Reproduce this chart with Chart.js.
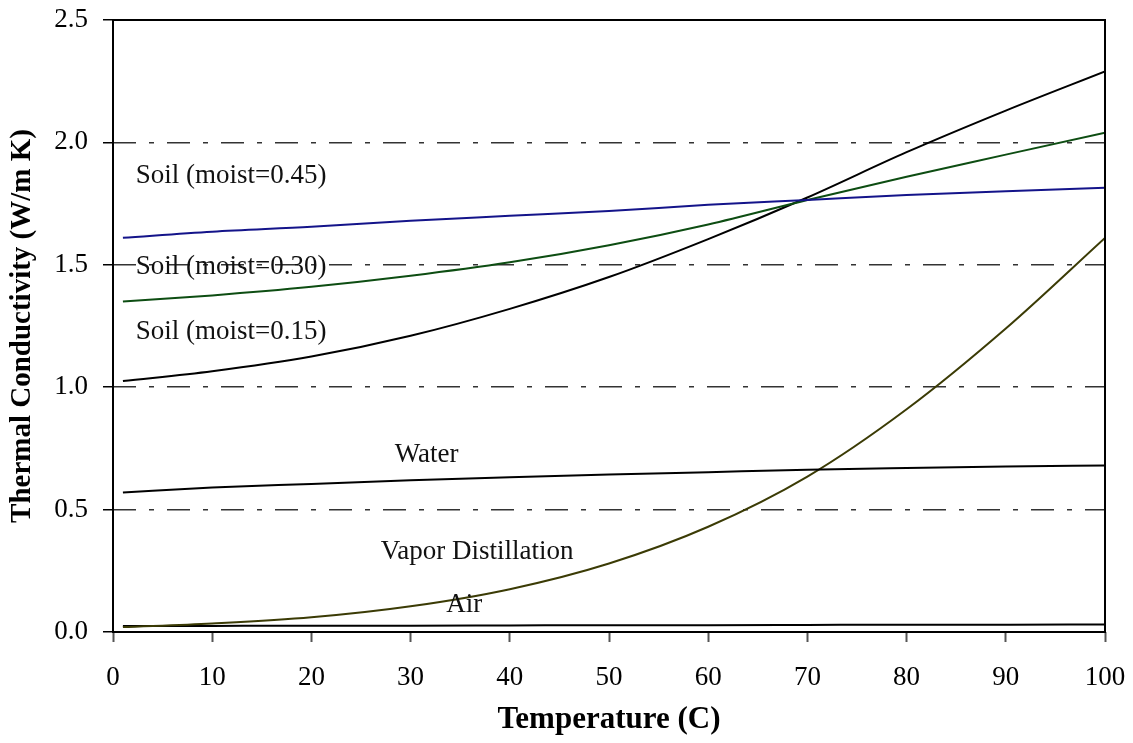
<!DOCTYPE html>
<html>
<head>
<meta charset="utf-8">
<script src="https://cdn.jsdelivr.net/npm/chart.js@4/dist/chart.umd.min.js"></script>
<style>
    html, body { margin: 0; padding: 0; background: #fff; }
    #wrap { width: 1133px; height: 743px; }
</style>
</head>
<body>
<div id="wrap"><canvas id="chart"></canvas></div>
<script>
// temperatures (C) where the curves were read
const temps = [1, 10, 20, 30, 40, 50, 60, 70, 80, 90, 100];

// thermal conductivity (W/m K)
const soil045 = [1.61, 1.635, 1.655, 1.68, 1.70, 1.72, 1.745, 1.765, 1.785, 1.80, 1.815];
const soil030 = [1.35, 1.375, 1.41, 1.455, 1.51, 1.58, 1.665, 1.765, 1.86, 1.95, 2.04];
const soil015 = [1.025, 1.065, 1.125, 1.21, 1.32, 1.45, 1.605, 1.775, 1.96, 2.13, 2.29];
const water = [0.57, 0.59, 0.605, 0.62, 0.632, 0.643, 0.653, 0.663, 0.67, 0.676, 0.68];
const vapor = [0.02, 0.035, 0.06, 0.105, 0.175, 0.28, 0.43, 0.635, 0.91, 1.24, 1.61];
const air = [0.024, 0.025, 0.026, 0.026, 0.027, 0.028, 0.028, 0.029, 0.030, 0.030, 0.031];

const xTicks = [0, 10, 20, 30, 40, 50, 60, 70, 80, 90, 100];
const yTicks = [0, 0.5, 1.0, 1.5, 2.0, 2.5];

// curve labels: [text, x, y] in data units, left aligned
const curveLabels = [
    ['Soil (moist=0.45)', 2.3, 1.863],
    ['Soil (moist=0.30)', 2.3, 1.491],
    ['Soil (moist=0.15)', 2.3, 1.225],
    ['Water', 28.4, 0.723],
    ['Vapor Distillation', 27.0, 0.327],
    ['Air', 33.6, 0.11]
];

const serif = '"Liberation Serif", "Times New Roman", serif';

function toPoints(ys) {
    return temps.map((t, i) => ({x: t, y: ys[i]}));
}

function series(label, ys, color) {
    return {
        label: label,
        data: toPoints(ys),
        borderColor: color,
        borderWidth: 2,
        pointRadius: 0,
        fill: false,
        cubicInterpolationMode: 'monotone'
    };
}

// keep the plot box where the layout padding puts it
function noEdgePadding(scale) {
    scale.paddingTop = 0;
    scale.paddingBottom = 0;
    scale.paddingLeft = 0;
    scale.paddingRight = 0;
}

const boxAndLabels = {
    id: 'boxAndLabels',
    afterDraw(chart) {
        const {ctx, chartArea, scales} = chart;
        ctx.save();
        ctx.strokeStyle = '#000';
        ctx.lineWidth = 2;
        ctx.strokeRect(chartArea.left, chartArea.top, chartArea.right - chartArea.left, chartArea.bottom - chartArea.top);
        ctx.fillStyle = '#111';
        ctx.font = '27px ' + serif;
        ctx.textBaseline = 'middle';
        ctx.textAlign = 'left';
        curveLabels.forEach(([text, x, y]) => {
            ctx.fillText(text, scales.x.getPixelForValue(x), scales.y.getPixelForValue(y));
        });
        ctx.restore();
    }
};

new Chart(document.getElementById('chart').getContext('2d'), {
    type: 'line',
    data: {
        datasets: [
            series('Soil (moist=0.45)', soil045, '#14148a'),
            series('Soil (moist=0.30)', soil030, '#0d4d12'),
            series('Soil (moist=0.15)', soil015, '#000000'),
            series('Water', water, '#000000'),
            series('Vapor Distillation', vapor, '#3b3b05'),
            series('Air', air, '#000000')
        ]
    },
    options: {
        responsive: true,
        maintainAspectRatio: false,
        animation: false,
        layout: {padding: {left: 4, right: 28, top: 20, bottom: 4}},
        plugins: {legend: {display: false}, tooltip: {enabled: false}},
        scales: {
            x: {
                type: 'linear',
                min: 0,
                max: 100,
                afterBuildTicks: (scale) => { scale.ticks = xTicks.map(v => ({value: v})); },
                afterFit: (scale) => { scale.height = 107; noEdgePadding(scale); },
                ticks: {
                    color: '#000',
                    font: {family: serif, size: 27},
                    padding: 20,
                    maxRotation: 0
                },
                grid: {drawOnChartArea: false, drawTicks: true, tickLength: 10, tickColor: '#555', tickWidth: 2},
                border: {display: false},
                title: {
                    display: true,
                    text: 'Temperature (C)',
                    color: '#000',
                    font: {family: serif, size: 31, weight: 'bold'},
                    padding: {top: 6, bottom: 0}
                }
            },
            y: {
                min: 0,
                max: 2.5,
                afterBuildTicks: (scale) => { scale.ticks = yTicks.map(v => ({value: v})); },
                afterFit: (scale) => { scale.width = 109; noEdgePadding(scale); },
                ticks: {
                    color: '#000',
                    font: {family: serif, size: 27},
                    padding: 15,
                    callback: (v) => v.toFixed(1)
                },
                grid: {
                    color: (c) => (c.tick.value > 0 && c.tick.value < 2.5) ? '#333' : 'rgba(0,0,0,0)',
                    lineWidth: 1.5,
                    drawTicks: true,
                    tickLength: 10,
                    tickColor: '#000',
                    tickWidth: 1.5
                },
                border: {display: false, dash: [23, 13, 5, 13]},
                title: {
                    display: true,
                    text: 'Thermal Conductivity (W/m K)',
                    color: '#000',
                    font: {family: serif, size: 29, weight: 'bold'},
                    padding: {top: 1, bottom: 6}
                }
            }
        }
    },
    plugins: [boxAndLabels]
});
</script>
</body>
</html>
